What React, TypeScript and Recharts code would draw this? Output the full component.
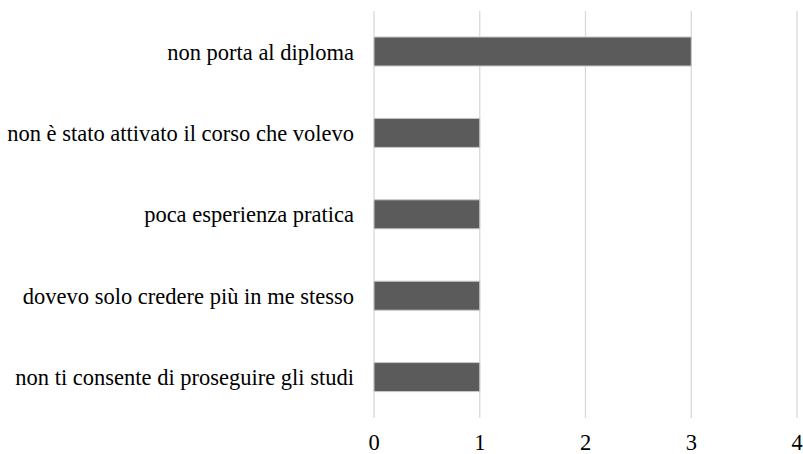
import React from 'react';
import { BarChart, Bar, XAxis, YAxis, CartesianGrid } from 'recharts';

const categories = [
  'non porta al diploma',
  'non è stato attivato il corso che volevo',
  'poca esperienza pratica',
  'dovevo solo credere più in me stesso',
  'non ti consente di proseguire gli studi',
];
const counts = [3, 1, 1, 1, 1];
const xTicks = [0, 1, 2, 3, 4];

const data = categories.map((name, i) => ({ name, value: counts[i] }));

const font = { fontFamily: 'Liberation Serif', fontSize: 22.5, fill: '#000' };

export default function App() {
  return (
    <div style={{ position: 'absolute', left: 0, top: 0, background: '#fff', fontFamily: 'Liberation Serif' }}>
      <BarChart
        width={803}
        height={454}
        data={data}
        layout="vertical"
        margin={{ top: 11, right: 6, bottom: 0, left: 0 }}
      >
        <CartesianGrid horizontal={false} vertical stroke="#d9d9d9" strokeWidth={1.3} />
        <XAxis
          type="number"
          domain={[0, 4]}
          ticks={xTicks}
          height={36}
          axisLine={false}
          tickLine={false}
          tickMargin={10}
          tick={font}
          interval={0}
        />
        <YAxis
          type="category"
          dataKey="name"
          width={374}
          axisLine={false}
          tickLine={false}
          tickMargin={14}
          tick={font}
          interval={0}
        />
        <Bar dataKey="value" fill="#5b5b5b" stroke="#c8c8c8" strokeWidth={1} barSize={29} isAnimationActive={false} />
      </BarChart>
    </div>
  );
}
